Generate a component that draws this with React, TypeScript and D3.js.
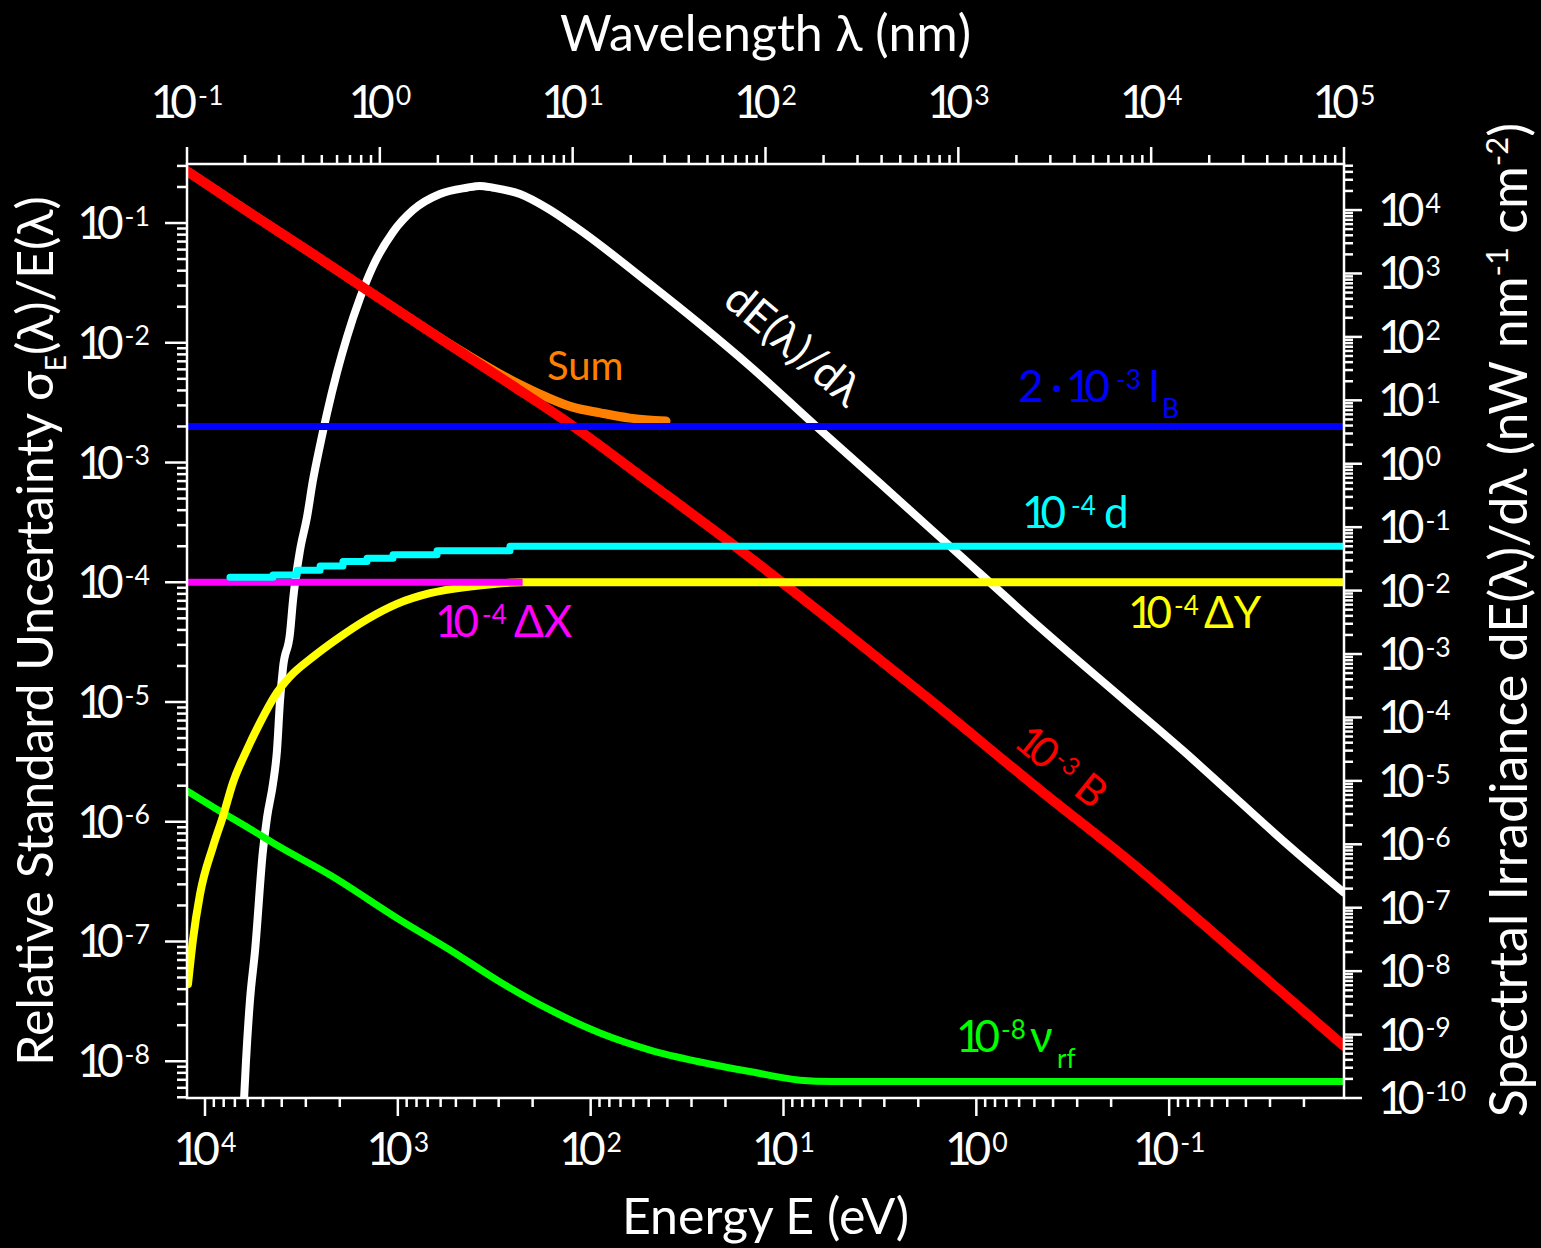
import React from "react";
import * as d3 from "d3";

// ---------- layout ----------
const W = 1541;
const H = 1248;
const PL = 187;
const PR = 1344;
const PT = 164;
const PB = 1098;
const HC = 1239.84; // eV nm
const FONT = "Lato, 'Open Sans', sans-serif";

// ---------- axes ----------
const wavelengthDomain = [0.1, 1e5];
const leftDomain = [Math.pow(10, -8.307), Math.pow(10, -0.507)];
const rightDomain = [1e-10, Math.pow(10, 4.726)];
const wavelengthExps = [-1, 0, 1, 2, 3, 4, 5];
const energyExps = [4, 3, 2, 1, 0, -1];
const leftExps = [-1, -2, -3, -4, -5, -6, -7, -8];
const rightExps = [4, 3, 2, 1, 0, -1, -2, -3, -4, -5, -6, -7, -8, -9, -10];

// ---------- series (wavelength in nm) ----------
// 10^-3 B (left axis)
const bLambda = [0.1, 0.2047, 0.45, 0.858, 2.23, 4.906, 9.69, 25.2, 73.8, 216, 713, 2652, 8054, 26580, 1e5];
const bValue = [0.2717, 0.1259, 0.0551, 0.02757, 0.00995, 0.004355, 0.002097, 6.75e-4, 1.86e-4, 4.84e-5, 1.04e-5, 1.84e-6, 4.43e-7, 8.49e-8, 1.34e-8];

// Sum (left axis)
const sumLambda = [0.1, 0.858, 2.23, 4.9, 7.4, 10.0, 13.9, 19.8, 30.5];
const sumValue = [0.272, 0.0276, 0.0101, 0.0048, 0.0035, 0.0029, 0.0026, 0.00235, 0.00222];

// 2·10^-3 I_B (left axis)
const ibLambda = [0.1, 1e5];
const ibValue = [2e-3, 2e-3];

// 10^-4 d (left axis)
const dLambda = [0.167, 0.279, 0.372, 0.49, 0.644, 0.858, 1.17, 1.98, 4.73, 1e5];
const dValue = [1.1e-4, 1.15e-4, 1.26e-4, 1.37e-4, 1.49e-4, 1.59e-4, 1.7e-4, 1.83e-4, 2.0e-4, 2.0e-4];

// 10^-4 ΔX (left axis)
const dxLambda = [0.1, 5.5];
const dxValue = [1e-4, 1e-4];

// 10^-4 ΔY (left axis)
const dyLambda = [0.1012, 0.1074, 0.1168, 0.1364, 0.1537, 0.1732, 0.2047, 0.239, 0.293, 0.342, 0.45, 0.6, 0.858, 1.228, 1.82, 2.94, 5.53, 1e5];
const dyValue = [4.4e-8, 1.04e-7, 2.48e-7, 6.2e-7, 1.11e-6, 2.13e-6, 4.0e-6, 6.7e-6, 1.2e-5, 1.63e-5, 2.38e-5, 3.36e-5, 4.9e-5, 6.6e-5, 8.1e-5, 9.2e-5, 1.0e-4, 1.0e-4];

// 10^-8 ν_rf (left axis)
const rfLambda = [0.1, 0.1364, 0.2047, 0.3037, 0.5516, 1.272, 2.312, 4.201, 7.63, 13.86, 25.2, 45.75, 83.1, 151, 220, 1e5];
const rfValue = [1.81e-6, 1.33e-6, 9.04e-7, 6.15e-7, 3.59e-7, 1.512e-7, 8.49e-8, 4.59e-8, 2.68e-8, 1.72e-8, 1.24e-8, 9.86e-9, 8.2e-9, 6.95e-9, 6.78e-9, 6.78e-9];

// dE(λ)/dλ (right axis)
const eLambda = [0.197, 0.2023, 0.212, 0.2253, 0.2477, 0.26, 0.2793, 0.2928, 0.3037, 0.3148, 0.342, 0.3546, 0.3855, 0.419, 0.45, 0.4895, 0.532, 0.5997, 0.6755, 0.789, 0.922, 1.17, 1.486, 2.05, 2.83, 3.3, 3.86, 5.33, 7.36, 10.53, 25.2, 45.75, 83.1, 180.6, 392.6, 906, 2652, 7497, 14620, 26580, 48300, 1e5];
const eValue = [8e-11, 3.85e-10, 3.4e-9, 2.09e-8, 7.93e-7, 2.63e-6, 9.04e-6, 3.0e-5, 1.85e-4, 6.12e-4, 2.11e-3, 7.0e-3, 0.0431, 0.143, 0.548, 1.95, 6.25, 27.7, 99.4, 408, 1306, 4497, 1.0e4, 1.789e4, 2.25e4, 2.4e4, 2.25e4, 1.789e4, 1.076e4, 5200, 679, 158.8, 34.5, 4.04, 0.491, 0.0498, 2.62e-3, 1.72e-4, 3.0e-5, 5.85e-6, 1.14e-6, 1.72e-7];

function logTicks(domain: number[]) {
  const lo = Math.min(domain[0], domain[1]);
  const hi = Math.max(domain[0], domain[1]);
  const out: { v: number; major: boolean }[] = [];
  for (let e = Math.floor(Math.log10(lo)) - 1; e <= Math.ceil(Math.log10(hi)); e++) {
    for (let k = 1; k <= 9; k++) {
      const v = k * Math.pow(10, e);
      if (v >= lo * 0.99999 && v <= hi * 1.00001) out.push({ v, major: k === 1 });
    }
  }
  return out;
}

const LS = -7; // tightening of "10"

function PowLabel(props: { x: number; y: number; exp: number; anchor: string; size?: number; fill?: string }) {
  const { x, y, exp, anchor } = props;
  const size = props.size ?? 46;
  const fill = props.fill ?? "#fff";
  return (
    <text x={x} y={y} textAnchor={anchor as any} fontFamily={FONT} fontSize={size} fill={fill}>
      <tspan letterSpacing={LS}>10</tspan>
      <tspan dx={-LS + 1} dy={-size * 0.29} fontSize={size * 0.58}>{String(exp)}</tspan>
    </text>
  );
}

export default function App() {
  const x = d3.scaleLog().domain(wavelengthDomain).range([PL, PR]);
  const xE = d3.scaleLog().domain([HC / wavelengthDomain[0], HC / wavelengthDomain[1]]).range([PL, PR]);
  const yL = d3.scaleLog().domain(leftDomain).range([PB, PT]);
  const yR = d3.scaleLog().domain(rightDomain).range([PB, PT]);

  const path = (ls: number[], vs: number[], ys: any, curve: any = d3.curveMonotoneX) =>
    d3
      .line<number>()
      .x((d) => x(d))
      .y((_, i) => ys(vs[i]))
      .curve(curve)(ls) as string;

  const topTicks = logTicks(wavelengthDomain);
  const botTicks = logTicks([HC / wavelengthDomain[1], HC / wavelengthDomain[0]]);
  const leftTicks = logTicks(leftDomain);
  const rightTicks = logTicks(rightDomain);

  const tickStroke = { stroke: "#fff", strokeWidth: 2.5 };
  const big = 46;
  const title = 50;

  return (
    <svg width={W} height={H} style={{ position: "absolute", left: 0, top: 0, display: "block", background: "#000" }}>
      <rect x={0} y={0} width={W} height={H} fill="#000" />
      <defs>
        <clipPath id="plotclip">
          <rect x={PL} y={PT} width={PR - PL} height={PB - PT} />
        </clipPath>
      </defs>

      {/* curves */}
      <g clipPath="url(#plotclip)" fill="none" strokeLinejoin="round" strokeLinecap="round">
        <path d={path(eLambda, eValue, yR)} stroke="#ffffff" strokeWidth={8} />
        <path d={path(rfLambda, rfValue, yL)} stroke="#00ff00" strokeWidth={7} />
        <path d={path(sumLambda, sumValue, yL)} stroke="#ff8000" strokeWidth={9} />
        <path d={path(bLambda, bValue, yL)} stroke="#ff0000" strokeWidth={10} />
        <path d={path(dyLambda, dyValue, yL)} stroke="#ffff00" strokeWidth={8} />
        <path d={path(dxLambda, dxValue, yL, d3.curveLinear)} stroke="#ff00ff" strokeWidth={7} strokeLinecap="butt" />
        <path d={path(dLambda, dValue, yL, d3.curveStepAfter)} stroke="#00ffff" strokeWidth={7} />
        <path d={path(ibLambda, ibValue, yL, d3.curveLinear)} stroke="#0000ff" strokeWidth={7} strokeLinecap="butt" />
      </g>

      {/* frame */}
      <rect x={PL} y={PT} width={PR - PL} height={PB - PT} fill="none" stroke="#fff" strokeWidth={2.5} />

      {/* top ticks */}
      {topTicks.map((t, i) => (
        <line key={"t" + i} x1={x(t.v)} x2={x(t.v)} y1={PT} y2={PT - (t.major ? 17 : 9)} {...tickStroke} />
      ))}
      {wavelengthExps.map((e) => (
        <PowLabel key={"tl" + e} x={x(Math.pow(10, e))} y={118} exp={e} anchor="middle" size={big} />
      ))}

      {/* bottom ticks */}
      {botTicks.map((t, i) => (
        <line key={"b" + i} x1={xE(t.v)} x2={xE(t.v)} y1={PB} y2={PB + (t.major ? 18 : 9)} {...tickStroke} />
      ))}
      {energyExps.map((e) => (
        <PowLabel key={"bl" + e} x={xE(Math.pow(10, e))} y={1165} exp={e} anchor="middle" size={big} />
      ))}

      {/* left ticks */}
      {leftTicks.map((t, i) => (
        <line key={"l" + i} x1={PL} x2={PL - (t.major ? 22 : 10)} y1={yL(t.v)} y2={yL(t.v)} {...tickStroke} />
      ))}
      {leftExps.map((e) => (
        <PowLabel key={"ll" + e} x={150} y={yL(Math.pow(10, e)) + 16} exp={e} anchor="end" size={big} />
      ))}

      {/* right ticks */}
      {rightTicks.map((t, i) => (
        <line key={"r" + i} x1={PR} x2={PR + (t.major ? 18 : 9)} y1={yR(t.v)} y2={yR(t.v)} {...tickStroke} />
      ))}
      {rightExps.map((e) => (
        <PowLabel key={"rl" + e} x={1378} y={yR(Math.pow(10, e)) + 16} exp={e} anchor="start" size={big} />
      ))}

      {/* axis titles */}
      <text x={(PL + PR) / 2} y={51} textAnchor="middle" fontFamily={FONT} fontSize={title} fill="#fff">
        Wavelength λ (nm)
      </text>
      <text x={(PL + PR) / 2} y={1234} textAnchor="middle" fontFamily={FONT} fontSize={title} fill="#fff">
        Energy E (eV)
      </text>
      <text transform={`translate(53, ${(PT + PB) / 2}) rotate(-90)`} textAnchor="middle" fontFamily={FONT} fontSize={title} fill="#fff">
        Relative Standard Uncertainty σ
        <tspan dy={13} fontSize={28}>E</tspan>
        <tspan dy={-13}>(λ)/E(λ)</tspan>
      </text>
      <text transform={`translate(1527, ${(PT + PB) / 2 - 11}) rotate(-90)`} textAnchor="middle" fontFamily={FONT} fontSize={52} fill="#fff">
        Spectrtal Irradiance dE(λ)/dλ (nW nm
        <tspan dy={-19} fontSize={31}>-1</tspan>
        <tspan dy={19}> cm</tspan>
        <tspan dy={-19} fontSize={31}>-2</tspan>
        <tspan dy={19}>)</tspan>
      </text>

      {/* curve labels */}
      <text x={547} y={380} fontFamily={FONT} fontSize={40} fill="#ff8000">Sum</text>

      <text transform="translate(784, 356) rotate(40)" textAnchor="middle" fontFamily={FONT} fontSize={44} fill="#fff">
        dE(λ)/dλ
      </text>

      <text fontFamily={FONT} fontSize={44} fill="#0000ff">
        <tspan x={1018} y={402}>2</tspan>
        <tspan x={1051} y={402}>·</tspan>
        <tspan x={1066} y={402} letterSpacing={LS}>10</tspan>
        <tspan x={1116} y={389} fontSize={26}>-3</tspan>
        <tspan x={1148} y={402}>I</tspan>
        <tspan x={1162} y={418} fontSize={26}>B</tspan>
      </text>

      <text fontFamily={FONT} fontSize={44} fill="#00ffff">
        <tspan x={1022} y={528} letterSpacing={LS}>10</tspan>
        <tspan x={1071} y={515} fontSize={26}>-4</tspan>
        <tspan x={1104} y={528}>d</tspan>
      </text>

      <text fontFamily={FONT} fontSize={44} fill="#ff00ff">
        <tspan x={435} y={637} letterSpacing={LS}>10</tspan>
        <tspan x={482} y={624} fontSize={26}>-4</tspan>
        <tspan x={514} y={637}>ΔX</tspan>
      </text>

      <text fontFamily={FONT} fontSize={44} fill="#ffff00">
        <tspan x={1128} y={628} letterSpacing={LS}>10</tspan>
        <tspan x={1174} y={615} fontSize={26}>-4</tspan>
        <tspan x={1204} y={628}>ΔY</tspan>
      </text>

      <text fontFamily={FONT} fontSize={44} fill="#00ff00">
        <tspan x={956} y={1052} letterSpacing={LS}>10</tspan>
        <tspan x={1001} y={1039} fontSize={26}>-8</tspan>
        <tspan x={1030} y={1052}>ν</tspan>
        <tspan x={1057} y={1068} fontSize={26}>rf</tspan>
      </text>

      <text transform="translate(1012, 745) rotate(39)" fontFamily={FONT} fontSize={42} fill="#ff0000">
        <tspan letterSpacing={LS}>10</tspan>
        <tspan dx={-LS + 1} dy={-12} fontSize={25}>-3</tspan>
        <tspan dx={10} dy={12}>B</tspan>
      </text>
    </svg>
  );
}
